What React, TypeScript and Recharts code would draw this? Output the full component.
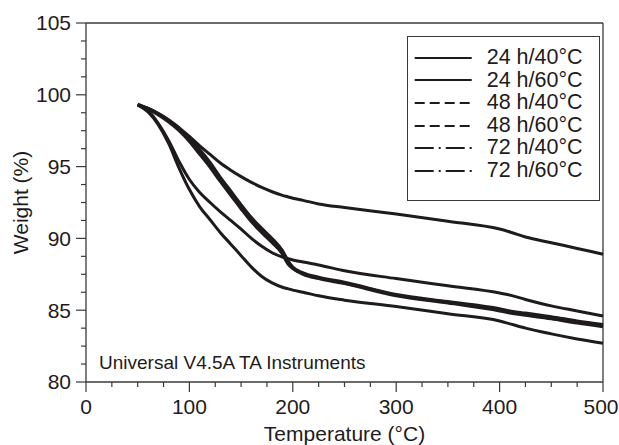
import { LineChart, Line, XAxis, YAxis, Legend, ReferenceLine, Label } from "recharts";

// ─── Data ─────────────────────────────────────────────────────────────────────

const temps = [
  50, 60, 70, 80, 90, 100, 110, 120, 130, 140, 150, 160, 170, 180, 190, 195,
  200, 210, 225, 250, 300, 350, 400, 410, 425, 450, 475, 500,
];

const w24h40 = [
  99.3, 99.05, 98.7, 98.25, 97.7, 97.1, 96.45, 95.85, 95.25, 94.75, 94.3, 93.9,
  93.55, 93.25, 93.0, 92.9, 92.8, 92.65, 92.4, 92.15, 91.7, 91.2, 90.65, 90.45,
  90.1, 89.7, 89.3, 88.9,
];
const w24h60 = [
  99.3, 98.9, 98.0, 96.8, 95.35, 94.1, 93.2, 92.5, 91.85, 91.25, 90.65, 90.0,
  89.45, 89.0, 88.7, 88.6, 88.5, 88.35, 88.15, 87.75, 87.2, 86.7, 86.2, 86.05,
  85.75, 85.3, 84.95, 84.6,
];
const w48h40 = [
  99.3, 99.05, 98.7, 98.25, 97.7, 97.0, 96.2, 95.3, 94.25, 93.3, 92.35, 91.45,
  90.7, 90.0, 89.15, 88.5, 88.0, 87.6, 87.3, 86.95, 86.1, 85.6, 85.1, 84.95,
  84.8, 84.55, 84.25, 84.0,
];
const w48h60 = [
  99.3, 99.0, 98.6, 98.1, 97.5, 96.75, 95.85, 94.95, 93.95, 93.0, 92.05, 91.15,
  90.4, 89.7, 88.9, 88.25, 87.9, 87.5, 87.2, 86.85, 86.0, 85.5, 84.95, 84.8,
  84.65, 84.4, 84.1, 83.85,
];
const w72h40 = [
  99.35, 99.05, 98.65, 98.2, 97.6, 96.9, 96.05, 95.15, 94.1, 93.15, 92.2, 91.3,
  90.55, 89.85, 89.05, 88.4, 87.95, 87.55, 87.25, 86.9, 86.05, 85.55, 85.0, 84.85,
  84.7, 84.5, 84.2, 83.95,
];
const w72h60 = [
  99.3, 98.8, 97.9, 96.6, 94.9, 93.4, 92.2, 91.3, 90.4, 89.6, 88.8, 88.0,
  87.35, 86.9, 86.6, 86.5, 86.4, 86.25, 86.0, 85.7, 85.25, 84.75, 84.25, 84.05,
  83.75, 83.35, 83.0, 82.7,
];

const seriesNames = [
  "24 h/40°C",
  "24 h/60°C",
  "48 h/40°C",
  "48 h/60°C",
  "72 h/40°C",
  "72 h/60°C",
];
const seriesValues = [w24h40, w24h60, w48h40, w48h60, w72h40, w72h60];

const xTicks = [
  0, 25, 50, 75, 100, 125, 150, 175, 200, 225, 250, 275, 300, 325, 350, 375,
  400, 425, 450, 475, 500,
];
const yTicks = [
  80, 81.25, 82.5, 83.75, 85, 86.25, 87.5, 88.75, 90, 91.25, 92.5, 93.75, 95,
  96.25, 97.5, 98.75, 100, 101.25, 102.5, 103.75, 105,
];

const rows = temps.map((t, i) => {
  const row: Record<string, number> = { t };
  seriesValues.forEach((vals, s) => {
    row["s" + s] = vals[i];
  });
  return row;
});

// ─── Styles ───────────────────────────────────────────────────────────────────

const FONT = '"Liberation Sans", Arial, Helvetica, sans-serif';
const INK = "#1f1b1c";
const AXIS = "#3a3a3a";
const legendDash = ["", "", "10 5", "10 5", "19 5 2 5", "19 5 2 5"];

// ─── Ticks ────────────────────────────────────────────────────────────────────

function XTick({ x, y, payload }: any) {
  const v = payload.value;
  const major = v % 100 === 0;
  return (
    <g>
      <line x1={x} x2={x} y1={y} y2={y + (major ? 10 : 5)} stroke={AXIS} strokeWidth={1.2} />
      {major && (
        <text
          x={v === 500 ? x - 2 : x}
          y={y + 17}
          dy="0.71em"
          textAnchor="middle"
          fontSize={21}
          fill={INK}
          fontFamily={FONT}
        >
          {v}
        </text>
      )}
    </g>
  );
}

function YTick({ x, y, payload }: any) {
  const v = payload.value;
  const major = Number.isInteger((v - 80) / 5);
  return (
    <g>
      <line x1={x - (major ? 10 : 5)} x2={x} y1={y} y2={y} stroke={AXIS} strokeWidth={1.2} />
      {major && (
        <text x={x - 15} y={y} dy="0.355em" textAnchor="end" fontSize={21} fill={INK} fontFamily={FONT}>
          {v}
        </text>
      )}
    </g>
  );
}

// ─── Legend ───────────────────────────────────────────────────────────────────

function BoxLegend({ payload }: any) {
  return (
    <div
      style={{
        width: 193,
        height: 165,
        boxSizing: "border-box",
        border: `1.3px solid ${AXIS}`,
        paddingTop: 9.5,
        background: "#fff",
      }}
    >
      {(payload ?? []).map((e: any, i: number) => (
        <div key={i} style={{ display: "flex", alignItems: "center", height: 22.6 }}>
          <svg width={78.7} height={10} style={{ flex: "none" }}>
            <line
              x1={6.7}
              x2={63.7}
              y1={5}
              y2={5}
              stroke={INK}
              strokeWidth={1.8}
              strokeDasharray={legendDash[seriesNames.indexOf(e.value)] || undefined}
            />
          </svg>
          <span style={{ fontSize: 21.5, fontFamily: FONT, color: INK, lineHeight: 1, whiteSpace: "nowrap" }}>
            {e.value}
          </span>
        </div>
      ))}
    </div>
  );
}

// ─── Chart ────────────────────────────────────────────────────────────────────

export default function App() {
  return (
    <div style={{ position: "absolute", left: 0, top: 0, width: 619, height: 445, background: "#fff" }}>
      <LineChart width={619} height={445} data={rows} margin={{ top: 23, right: 16, left: 26, bottom: 4 }}>
        <XAxis
          dataKey="t"
          type="number"
          domain={[0, 500]}
          ticks={xTicks}
          interval={0}
          tick={<XTick />}
          tickLine={false}
          tickSize={0}
          tickMargin={0}
          height={59}
          axisLine={{ stroke: AXIS, strokeWidth: 1.3 }}
        >
          <Label
            value="Temperature (°C)"
            position="insideBottom"
            offset={0}
            style={{ fontSize: 21, fontFamily: FONT, fill: INK }}
          />
        </XAxis>
        <YAxis
          type="number"
          domain={[80, 105]}
          ticks={yTicks}
          interval={0}
          tick={<YTick />}
          tickLine={false}
          tickSize={0}
          tickMargin={0}
          width={60}
          axisLine={{ stroke: AXIS, strokeWidth: 1.3 }}
        >
          <Label
            value="Weight (%)"
            angle={-90}
            position="insideLeft"
            offset={-5}
            style={{ fontSize: 21, fontFamily: FONT, fill: INK, textAnchor: "middle" }}
          />
        </YAxis>
        <ReferenceLine y={105} stroke={AXIS} strokeWidth={1.3} />
        <ReferenceLine x={500} stroke={AXIS} strokeWidth={1.3} />
        <ReferenceLine
          y={81.4}
          stroke="none"
          label={{
            value: "Universal V4.5A TA Instruments",
            position: "insideLeft",
            offset: 13,
            style: { fontSize: 19, fontFamily: FONT, fill: INK },
          }}
        />
        <Legend
          content={<BoxLegend />}
          layout="horizontal"
          verticalAlign="middle"
          align="center"
          wrapperStyle={{ left: 407, top: 36, width: 193, height: 165 }}
        />
        {seriesNames.map((name, s) => (
          <Line
            key={name}
            name={name}
            dataKey={"s" + s}
            type="monotone"
            stroke={INK}
            strokeWidth={3}
            dot={false}
            isAnimationActive={false}
          />
        ))}
      </LineChart>
    </div>
  );
}
